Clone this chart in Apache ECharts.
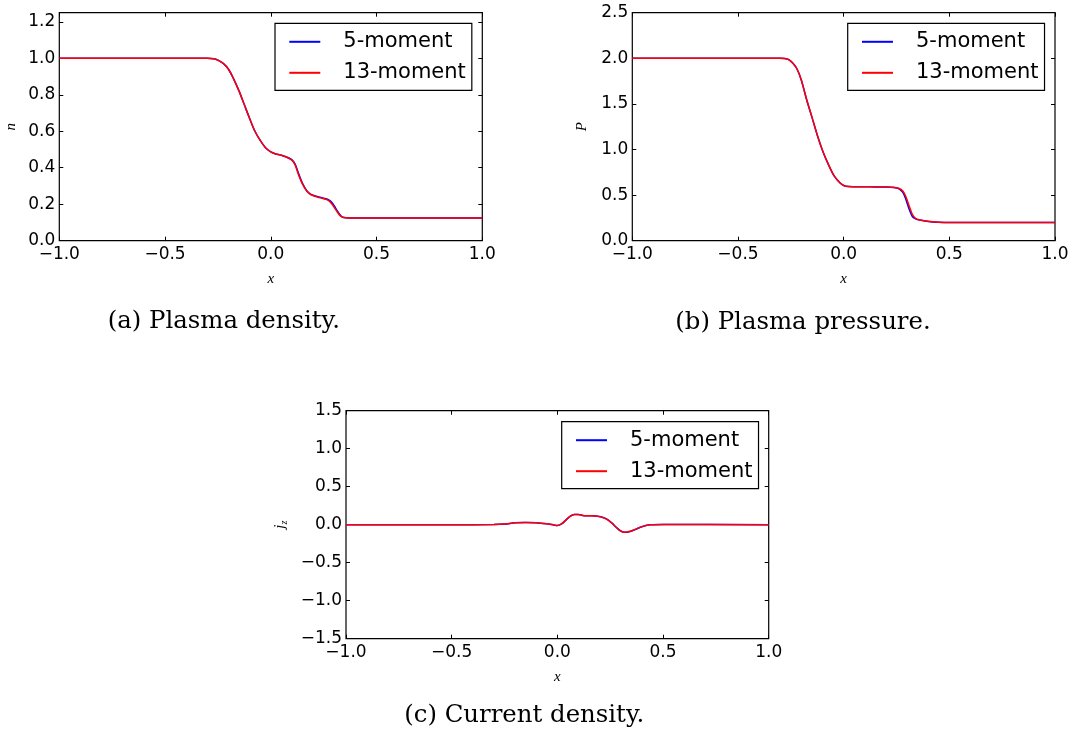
<!DOCTYPE html>
<html>
<head>
<meta charset="utf-8">
<script src="https://cdn.jsdelivr.net/npm/echarts@6/dist/echarts.min.js"></script>
<style>
  html, body { margin: 0; padding: 0; background: #fff; }
  #chart { width: 1073px; height: 737px; }
</style>
</head>
<body>
<div id="chart"></div>
<script>
// Panel (a): plasma density n(x)
const xA = [-1.0, -0.5, -0.30, -0.27, -0.25, -0.225, -0.20, -0.177, -0.15, -0.125, -0.10, -0.075, -0.05, -0.025, 0.0, 0.02, 0.05, 0.08, 0.10, 0.115, 0.13, 0.15, 0.17, 0.19, 0.22, 0.25, 0.27, 0.29, 0.31, 0.33, 0.345, 0.37, 0.5, 1.0];
const densFive = [1.0, 1.0, 1.0, 0.998, 0.99, 0.972, 0.94, 0.89, 0.82, 0.745, 0.67, 0.60, 0.55, 0.51, 0.487, 0.477, 0.468, 0.456, 0.443, 0.42, 0.372, 0.314, 0.274, 0.254, 0.242, 0.233, 0.226, 0.208, 0.172, 0.138, 0.127, 0.125, 0.125, 0.125];
const densThirteen = [1.0, 1.0, 1.0, 0.998, 0.99, 0.972, 0.94, 0.89, 0.82, 0.745, 0.67, 0.60, 0.55, 0.51, 0.487, 0.477, 0.468, 0.455, 0.441, 0.415, 0.365, 0.31, 0.272, 0.252, 0.240, 0.230, 0.222, 0.200, 0.165, 0.134, 0.127, 0.125, 0.125, 0.125];

// Panel (b): plasma pressure P(x)
const xB = [-1.0, -0.5, -0.30, -0.28, -0.26, -0.24, -0.22, -0.20, -0.175, -0.15, -0.125, -0.10, -0.075, -0.05, -0.03, -0.01, 0.01, 0.05, 0.10, 0.15, 0.20, 0.24, 0.26, 0.28, 0.295, 0.31, 0.325, 0.34, 0.36, 0.40, 0.45, 0.5, 1.0];
const presFive = [2.0, 2.0, 2.0, 1.997, 1.985, 1.945, 1.88, 1.76, 1.545, 1.355, 1.16, 0.99, 0.85, 0.73, 0.665, 0.62, 0.598, 0.592, 0.591, 0.590, 0.588, 0.583, 0.572, 0.530, 0.450, 0.345, 0.265, 0.240, 0.226, 0.211, 0.203, 0.2, 0.2];
const presThirteen = [2.0, 2.0, 2.0, 1.997, 1.985, 1.945, 1.88, 1.76, 1.545, 1.355, 1.16, 0.99, 0.85, 0.73, 0.665, 0.62, 0.598, 0.592, 0.591, 0.590, 0.588, 0.582, 0.575, 0.545, 0.48, 0.38, 0.29, 0.245, 0.228, 0.212, 0.203, 0.2, 0.2];

// Panel (c): current density j_z(x)
const xC = [-1.0, -0.5, -0.30, -0.25, -0.20, -0.15, -0.10, -0.05, -0.02, 0.0, 0.02, 0.04, 0.06, 0.08, 0.10, 0.12, 0.15, 0.19, 0.22, 0.24, 0.26, 0.28, 0.30, 0.32, 0.34, 0.37, 0.40, 0.44, 0.5, 1.0];
const currFive = [0, 0, 0.002, 0.008, 0.025, 0.03, 0.026, 0.012, 0.0, -0.012, 0.01, 0.06, 0.11, 0.134, 0.134, 0.122, 0.118, 0.112, 0.092, 0.064, 0.018, -0.037, -0.083, -0.1, -0.092, -0.062, -0.026, 0.0, 0.003, 0.0];
const currThirteen = [0, 0, 0.002, 0.008, 0.025, 0.03, 0.026, 0.012, 0.0, -0.012, 0.01, 0.06, 0.11, 0.135, 0.135, 0.122, 0.118, 0.112, 0.09, 0.06, 0.015, -0.04, -0.085, -0.1, -0.09, -0.06, -0.025, 0.0, 0.003, 0.0];

const seriesNames = ['5-moment', '13-moment'];
const xTicks = { min: -1, max: 1, interval: 0.5 };
const captions = ['(a) Plasma density.', '(b) Plasma pressure.', '(c) Current density.'];

const grids = [
  { left: 59.3, top: 12.7, width: 423, height: 228 },
  { left: 632.3, top: 12.7, width: 422.7, height: 228 },
  { left: 346, top: 410.7, width: 422.7, height: 228 }
];
const yRanges = [
  { min: 0, max: 1.25, interval: 0.2 },
  { min: 0, max: 2.5, interval: 0.5 },
  { min: -1.5, max: 1.5, interval: 0.5 }
];
const yNames = ['n', 'P', '{j|j}{s|z}'];
const yNameGaps = [41, 43, 57];
const legendBoxes = [
  { left: 275, top: 23.3 },
  { left: 847.7, top: 23.3 },
  { left: 561.7, top: 421.7 }
];
const captionPos = [[223.8, 322], [803, 323], [524.2, 716]];

const fmt = v => (v < 0 ? '\u2212' : '') + Math.abs(v).toFixed(1);
const tickFont = { fontFamily: 'DejaVu Sans', fontSize: 17, color: '#000' };
const tick = { show: true, inside: true, length: 4, lineStyle: { color: '#000', width: 1 } };
const hiddenLine = { show: false, onZero: false };
const nameFont = { fontFamily: 'Liberation Serif', fontStyle: 'italic', fontSize: 15, color: '#000' };

const xAxes = [], yAxes = [], series = [], legends = [];
grids.forEach((g, i) => {
  xAxes.push({
    type: 'value', gridIndex: i, position: 'bottom', ...xTicks,
    name: 'x', nameLocation: 'middle', nameGap: 31, nameTextStyle: nameFont,
    axisLine: hiddenLine, axisTick: tick, splitLine: { show: false },
    axisLabel: { ...tickFont, margin: 5, formatter: fmt, showMinLabel: true, showMaxLabel: true }
  });
  xAxes.push({
    type: 'value', gridIndex: i, position: 'top', ...xTicks,
    axisLine: hiddenLine, axisTick: tick, splitLine: { show: false },
    axisLabel: { show: false }
  });
  yAxes.push({
    type: 'value', gridIndex: i, position: 'left', ...yRanges[i],
    name: yNames[i], nameLocation: 'middle', nameRotate: 90, nameGap: yNameGaps[i],
    nameTextStyle: {
      ...nameFont,
      rich: {
        j: { fontFamily: 'Liberation Serif', fontStyle: 'italic', fontSize: 15, color: '#000', lineHeight: 18, verticalAlign: 'middle' },
        s: { fontFamily: 'Liberation Serif', fontStyle: 'italic', fontSize: 10, color: '#000', lineHeight: 10, verticalAlign: 'bottom' }
      }
    },
    axisLine: hiddenLine, axisTick: tick, splitLine: { show: false },
    axisLabel: { ...tickFont, margin: 4, formatter: fmt, showMaxLabel: i !== 0 }
  });
  yAxes.push({
    type: 'value', gridIndex: i, position: 'right', ...yRanges[i],
    axisLine: hiddenLine, axisTick: tick, splitLine: { show: false },
    axisLabel: { show: false }
  });
  legends.push({
    data: seriesNames, orient: 'vertical',
    left: legendBoxes[i].left, top: legendBoxes[i].top,
    icon: 'rect', itemWidth: 31, itemHeight: 2, itemGap: 10,
    padding: [8, 6, 7, 14.3],
    backgroundColor: '#fff', borderColor: '#000', borderWidth: 1.2, borderRadius: 0,
    selectedMode: false,
    textStyle: { fontFamily: 'DejaVu Sans', fontSize: 21, lineHeight: 21, color: '#000', padding: [0, 0, 0, 18] }
  });
});

const panels = [
  [xA, densFive, densThirteen],
  [xB, presFive, presThirteen],
  [xC, currFive, currThirteen]
];
const colors = ['#0000ff', '#ff0000'];
panels.forEach(([xs, five, thirteen], i) => {
  [five, thirteen].forEach((ys, k) => {
    series.push({
      name: seriesNames[k], type: 'line',
      xAxisIndex: 2 * i, yAxisIndex: 2 * i,
      data: xs.map((x, j) => [x, ys[j]]),
      showSymbol: false, symbol: 'none',
      smooth: 0.3,
      lineStyle: { color: colors[k], width: 1.5 },
      itemStyle: { color: colors[k] },
      emphasis: { disabled: true }
    });
  });
});

const chart = echarts.init(document.getElementById('chart'), null, { renderer: 'canvas' });
chart.setOption({
  animation: false,
  backgroundColor: '#fff',
  grid: grids.map(g => ({ ...g, show: true, borderColor: '#000', borderWidth: 1.2, backgroundColor: 'transparent' })),
  xAxis: xAxes,
  yAxis: yAxes,
  legend: legends,
  series: series,
  graphic: captions.map((t, i) => ({
    type: 'text', x: captionPos[i][0], y: captionPos[i][1],
    style: { text: t, fontFamily: 'DejaVu Serif', fontSize: 24.4, fill: '#000', align: 'center', verticalAlign: 'middle' }
  }))
});
</script>
</body>
</html>
